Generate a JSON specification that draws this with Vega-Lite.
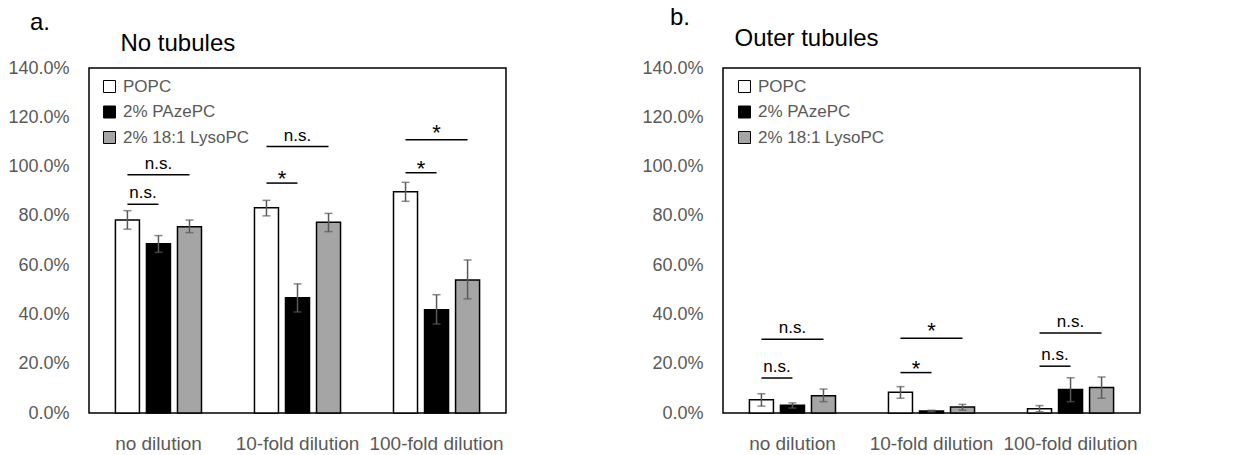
{
  "$schema": "https://vega.github.io/schema/vega-lite/v6.json",
  "padding": {"left": 7, "top": 5, "right": 0, "bottom": 0},
  "background": "white",
  "datasets": {
    "bars": [
      {"panel": "a", "dilution": "no dilution", "series": "POPC", "value": 0.783, "lo": 0.746, "hi": 0.821},
      {"panel": "a", "dilution": "no dilution", "series": "2% PAzePC", "value": 0.687, "lo": 0.652, "hi": 0.720},
      {"panel": "a", "dilution": "no dilution", "series": "2% 18:1 LysoPC", "value": 0.756, "lo": 0.732, "hi": 0.783},
      {"panel": "a", "dilution": "10-fold dilution", "series": "POPC", "value": 0.833, "lo": 0.800, "hi": 0.863},
      {"panel": "a", "dilution": "10-fold dilution", "series": "2% PAzePC", "value": 0.468, "lo": 0.410, "hi": 0.524},
      {"panel": "a", "dilution": "10-fold dilution", "series": "2% 18:1 LysoPC", "value": 0.774, "lo": 0.736, "hi": 0.810},
      {"panel": "a", "dilution": "100-fold dilution", "series": "POPC", "value": 0.898, "lo": 0.859, "hi": 0.936},
      {"panel": "a", "dilution": "100-fold dilution", "series": "2% PAzePC", "value": 0.419, "lo": 0.361, "hi": 0.480},
      {"panel": "a", "dilution": "100-fold dilution", "series": "2% 18:1 LysoPC", "value": 0.540, "lo": 0.463, "hi": 0.621},
      {"panel": "b", "dilution": "no dilution", "series": "POPC", "value": 0.054, "lo": 0.028, "hi": 0.078},
      {"panel": "b", "dilution": "no dilution", "series": "2% PAzePC", "value": 0.031, "lo": 0.020, "hi": 0.041},
      {"panel": "b", "dilution": "no dilution", "series": "2% 18:1 LysoPC", "value": 0.070, "lo": 0.046, "hi": 0.097},
      {"panel": "b", "dilution": "10-fold dilution", "series": "POPC", "value": 0.084, "lo": 0.060, "hi": 0.107},
      {"panel": "b", "dilution": "10-fold dilution", "series": "2% PAzePC", "value": 0.008, "lo": 0.005, "hi": 0.011},
      {"panel": "b", "dilution": "10-fold dilution", "series": "2% 18:1 LysoPC", "value": 0.024, "lo": 0.012, "hi": 0.035},
      {"panel": "b", "dilution": "100-fold dilution", "series": "POPC", "value": 0.017, "lo": 0.005, "hi": 0.030},
      {"panel": "b", "dilution": "100-fold dilution", "series": "2% PAzePC", "value": 0.095, "lo": 0.046, "hi": 0.143},
      {"panel": "b", "dilution": "100-fold dilution", "series": "2% 18:1 LysoPC", "value": 0.103, "lo": 0.060, "hi": 0.146}
    ],
    "sigLines": [
      {"panel": "a", "dilution": "no dilution", "comp": "short", "series": "POPC", "level": 0.847},
      {"panel": "a", "dilution": "no dilution", "comp": "short", "series": "2% PAzePC", "level": 0.847},
      {"panel": "a", "dilution": "no dilution", "comp": "long", "series": "POPC", "level": 0.967},
      {"panel": "a", "dilution": "no dilution", "comp": "long", "series": "2% 18:1 LysoPC", "level": 0.967},
      {"panel": "a", "dilution": "10-fold dilution", "comp": "short", "series": "POPC", "level": 0.933},
      {"panel": "a", "dilution": "10-fold dilution", "comp": "short", "series": "2% PAzePC", "level": 0.933},
      {"panel": "a", "dilution": "10-fold dilution", "comp": "long", "series": "POPC", "level": 1.081},
      {"panel": "a", "dilution": "10-fold dilution", "comp": "long", "series": "2% 18:1 LysoPC", "level": 1.081},
      {"panel": "a", "dilution": "100-fold dilution", "comp": "short", "series": "POPC", "level": 0.975},
      {"panel": "a", "dilution": "100-fold dilution", "comp": "short", "series": "2% PAzePC", "level": 0.975},
      {"panel": "a", "dilution": "100-fold dilution", "comp": "long", "series": "POPC", "level": 1.109},
      {"panel": "a", "dilution": "100-fold dilution", "comp": "long", "series": "2% 18:1 LysoPC", "level": 1.109},
      {"panel": "b", "dilution": "no dilution", "comp": "short", "series": "POPC", "level": 0.142},
      {"panel": "b", "dilution": "no dilution", "comp": "short", "series": "2% PAzePC", "level": 0.142},
      {"panel": "b", "dilution": "no dilution", "comp": "long", "series": "POPC", "level": 0.299},
      {"panel": "b", "dilution": "no dilution", "comp": "long", "series": "2% 18:1 LysoPC", "level": 0.299},
      {"panel": "b", "dilution": "10-fold dilution", "comp": "short", "series": "POPC", "level": 0.164},
      {"panel": "b", "dilution": "10-fold dilution", "comp": "short", "series": "2% PAzePC", "level": 0.164},
      {"panel": "b", "dilution": "10-fold dilution", "comp": "long", "series": "POPC", "level": 0.303},
      {"panel": "b", "dilution": "10-fold dilution", "comp": "long", "series": "2% 18:1 LysoPC", "level": 0.303},
      {"panel": "b", "dilution": "100-fold dilution", "comp": "short", "series": "POPC", "level": 0.190},
      {"panel": "b", "dilution": "100-fold dilution", "comp": "short", "series": "2% PAzePC", "level": 0.190},
      {"panel": "b", "dilution": "100-fold dilution", "comp": "long", "series": "POPC", "level": 0.325},
      {"panel": "b", "dilution": "100-fold dilution", "comp": "long", "series": "2% 18:1 LysoPC", "level": 0.325}
    ],
    "sigLabels": [
      {"panel": "a", "dilution": "no dilution", "comp": "short", "anchor": "POPC", "label": "n.s.", "level": 0.847},
      {"panel": "a", "dilution": "no dilution", "comp": "long", "anchor": "2% PAzePC", "label": "n.s.", "level": 0.967},
      {"panel": "a", "dilution": "10-fold dilution", "comp": "short", "anchor": "POPC", "label": "*", "level": 0.933},
      {"panel": "a", "dilution": "10-fold dilution", "comp": "long", "anchor": "2% PAzePC", "label": "n.s.", "level": 1.081},
      {"panel": "a", "dilution": "100-fold dilution", "comp": "short", "anchor": "POPC", "label": "*", "level": 0.975},
      {"panel": "a", "dilution": "100-fold dilution", "comp": "long", "anchor": "2% PAzePC", "label": "*", "level": 1.109},
      {"panel": "b", "dilution": "no dilution", "comp": "short", "anchor": "POPC", "label": "n.s.", "level": 0.142},
      {"panel": "b", "dilution": "no dilution", "comp": "long", "anchor": "2% PAzePC", "label": "n.s.", "level": 0.299},
      {"panel": "b", "dilution": "10-fold dilution", "comp": "short", "anchor": "POPC", "label": "*", "level": 0.164},
      {"panel": "b", "dilution": "10-fold dilution", "comp": "long", "anchor": "2% PAzePC", "label": "*", "level": 0.303},
      {"panel": "b", "dilution": "100-fold dilution", "comp": "short", "anchor": "POPC", "label": "n.s.", "level": 0.190},
      {"panel": "b", "dilution": "100-fold dilution", "comp": "long", "anchor": "2% PAzePC", "label": "n.s.", "level": 0.325}
    ]
  },
  "spacing": 134,
  "resolve": {
    "scale": {"x": "independent", "y": "independent", "xOffset": "independent", "fill": "independent"},
    "legend": {"fill": "independent"}
  },
  "hconcat": [
    {
      "title": {"text": "a.", "dx": -59, "offset": -4},
      "width": 417,
      "height": 345,
      "encoding": {
        "x": {"field": "dilution", "type": "nominal", "sort": ["no dilution", "10-fold dilution", "100-fold dilution"], "scale": {"paddingInner": 0.381, "paddingOuter": 0.19}, "axis": {"title": null}},
        "xOffset": {"field": "series", "type": "nominal", "sort": ["POPC", "2% PAzePC", "2% 18:1 LysoPC"], "scale": {"domain": ["POPC", "2% PAzePC", "2% 18:1 LysoPC"], "paddingInner": 0.226, "paddingOuter": 0}}
      },
      "layer": [
        {
          "data": {"name": "bars"},
          "transform": [{"filter": "datum.panel === 'a'"}],
          "mark": {"type": "bar", "stroke": "black", "strokeWidth": 1.5},
          "encoding": {
            "y": {"field": "value", "type": "quantitative", "scale": {"domain": [0, 1.4]}, "axis": {"title": "No tubules", "format": ".1%", "values": [0, 0.2, 0.4, 0.6, 0.8, 1.0, 1.2, 1.4], "titleX": 31, "titleY": -18}},
            "fill": {"field": "series", "type": "nominal", "sort": ["POPC", "2% PAzePC", "2% 18:1 LysoPC"], "scale": {"domain": ["POPC", "2% PAzePC", "2% 18:1 LysoPC"], "range": ["#ffffff", "#000000", "#a5a5a5"]}, "legend": {"orient": "none", "legendX": 12, "legendY": 10}}
          }
        },
        {
          "data": {"name": "bars"},
          "transform": [{"filter": "datum.panel === 'a'"}],
          "mark": {"type": "rule", "color": "#595959", "strokeWidth": 1.5},
          "encoding": {"y": {"field": "lo", "type": "quantitative"}, "y2": {"field": "hi"}}
        },
        {
          "data": {"name": "bars"},
          "transform": [{"filter": "datum.panel === 'a'"}],
          "mark": {"type": "tick", "color": "#595959", "thickness": 1.5, "size": 8, "orient": "horizontal"},
          "encoding": {"y": {"field": "lo", "type": "quantitative"}}
        },
        {
          "data": {"name": "bars"},
          "transform": [{"filter": "datum.panel === 'a'"}],
          "mark": {"type": "tick", "color": "#595959", "thickness": 1.5, "size": 8, "orient": "horizontal"},
          "encoding": {"y": {"field": "hi", "type": "quantitative"}}
        },
        {
          "data": {"name": "sigLines"},
          "transform": [{"filter": "datum.panel === 'a'"}],
          "mark": {"type": "line", "color": "black", "strokeWidth": 1.5},
          "encoding": {"y": {"field": "level", "type": "quantitative"}, "detail": [{"field": "dilution"}, {"field": "comp"}], "xOffset": {"field": "series", "type": "nominal"}}
        },
        {
          "data": {"name": "sigLabels"},
          "transform": [{"filter": "datum.panel === 'a' && datum.comp === 'short' && datum.label === 'n.s.'"}],
          "mark": {"type": "text", "fontSize": 17, "color": "black", "dx": 15.5, "dy": -6, "baseline": "alphabetic"},
          "encoding": {"y": {"field": "level", "type": "quantitative"}, "xOffset": {"field": "anchor", "type": "nominal"}, "text": {"field": "label"}}
        },
        {
          "data": {"name": "sigLabels"},
          "transform": [{"filter": "datum.panel === 'a' && datum.comp === 'short' && datum.label === '*'"}],
          "mark": {"type": "text", "fontSize": 22, "color": "black", "dx": 15.5, "dy": 3, "baseline": "alphabetic"},
          "encoding": {"y": {"field": "level", "type": "quantitative"}, "xOffset": {"field": "anchor", "type": "nominal"}, "text": {"field": "label"}}
        },
        {
          "data": {"name": "sigLabels"},
          "transform": [{"filter": "datum.panel === 'a' && datum.comp === 'long' && datum.label === 'n.s.'"}],
          "mark": {"type": "text", "fontSize": 17, "color": "black", "dy": -6, "baseline": "alphabetic"},
          "encoding": {"y": {"field": "level", "type": "quantitative"}, "xOffset": {"field": "anchor", "type": "nominal"}, "text": {"field": "label"}}
        },
        {
          "data": {"name": "sigLabels"},
          "transform": [{"filter": "datum.panel === 'a' && datum.comp === 'long' && datum.label === '*'"}],
          "mark": {"type": "text", "fontSize": 22, "color": "black", "dy": 0, "baseline": "alphabetic"},
          "encoding": {"y": {"field": "level", "type": "quantitative"}, "xOffset": {"field": "anchor", "type": "nominal"}, "text": {"field": "label"}}
        }
      ]
    },
    {
      "title": {"text": "b.", "dx": -53, "offset": -4},
      "width": 417,
      "height": 345,
      "encoding": {
        "x": {"field": "dilution", "type": "nominal", "sort": ["no dilution", "10-fold dilution", "100-fold dilution"], "scale": {"paddingInner": 0.381, "paddingOuter": 0.19}, "axis": {"title": null}},
        "xOffset": {"field": "series", "type": "nominal", "sort": ["POPC", "2% PAzePC", "2% 18:1 LysoPC"], "scale": {"domain": ["POPC", "2% PAzePC", "2% 18:1 LysoPC"], "paddingInner": 0.226, "paddingOuter": 0}}
      },
      "layer": [
        {
          "data": {"name": "bars"},
          "transform": [{"filter": "datum.panel === 'b'"}],
          "mark": {"type": "bar", "stroke": "black", "strokeWidth": 1.5},
          "encoding": {
            "y": {"field": "value", "type": "quantitative", "scale": {"domain": [0, 1.4]}, "axis": {"title": "Outer tubules", "format": ".1%", "values": [0, 0.2, 0.4, 0.6, 0.8, 1.0, 1.2, 1.4], "titleX": 11, "titleY": -23}},
            "fill": {"field": "series", "type": "nominal", "sort": ["POPC", "2% PAzePC", "2% 18:1 LysoPC"], "scale": {"domain": ["POPC", "2% PAzePC", "2% 18:1 LysoPC"], "range": ["#ffffff", "#000000", "#a5a5a5"]}, "legend": {"orient": "none", "legendX": 13, "legendY": 10}}
          }
        },
        {
          "data": {"name": "bars"},
          "transform": [{"filter": "datum.panel === 'b'"}],
          "mark": {"type": "rule", "color": "#595959", "strokeWidth": 1.5},
          "encoding": {"y": {"field": "lo", "type": "quantitative"}, "y2": {"field": "hi"}}
        },
        {
          "data": {"name": "bars"},
          "transform": [{"filter": "datum.panel === 'b'"}],
          "mark": {"type": "tick", "color": "#595959", "thickness": 1.5, "size": 8, "orient": "horizontal"},
          "encoding": {"y": {"field": "lo", "type": "quantitative"}}
        },
        {
          "data": {"name": "bars"},
          "transform": [{"filter": "datum.panel === 'b'"}],
          "mark": {"type": "tick", "color": "#595959", "thickness": 1.5, "size": 8, "orient": "horizontal"},
          "encoding": {"y": {"field": "hi", "type": "quantitative"}}
        },
        {
          "data": {"name": "sigLines"},
          "transform": [{"filter": "datum.panel === 'b'"}],
          "mark": {"type": "line", "color": "black", "strokeWidth": 1.5},
          "encoding": {"y": {"field": "level", "type": "quantitative"}, "detail": [{"field": "dilution"}, {"field": "comp"}], "xOffset": {"field": "series", "type": "nominal"}}
        },
        {
          "data": {"name": "sigLabels"},
          "transform": [{"filter": "datum.panel === 'b' && datum.comp === 'short' && datum.label === 'n.s.'"}],
          "mark": {"type": "text", "fontSize": 17, "color": "black", "dx": 15.5, "dy": -6, "baseline": "alphabetic"},
          "encoding": {"y": {"field": "level", "type": "quantitative"}, "xOffset": {"field": "anchor", "type": "nominal"}, "text": {"field": "label"}}
        },
        {
          "data": {"name": "sigLabels"},
          "transform": [{"filter": "datum.panel === 'b' && datum.comp === 'short' && datum.label === '*'"}],
          "mark": {"type": "text", "fontSize": 22, "color": "black", "dx": 15.5, "dy": 3, "baseline": "alphabetic"},
          "encoding": {"y": {"field": "level", "type": "quantitative"}, "xOffset": {"field": "anchor", "type": "nominal"}, "text": {"field": "label"}}
        },
        {
          "data": {"name": "sigLabels"},
          "transform": [{"filter": "datum.panel === 'b' && datum.comp === 'long' && datum.label === 'n.s.'"}],
          "mark": {"type": "text", "fontSize": 17, "color": "black", "dy": -6, "baseline": "alphabetic"},
          "encoding": {"y": {"field": "level", "type": "quantitative"}, "xOffset": {"field": "anchor", "type": "nominal"}, "text": {"field": "label"}}
        },
        {
          "data": {"name": "sigLabels"},
          "transform": [{"filter": "datum.panel === 'b' && datum.comp === 'long' && datum.label === '*'"}],
          "mark": {"type": "text", "fontSize": 22, "color": "black", "dy": 0, "baseline": "alphabetic"},
          "encoding": {"y": {"field": "level", "type": "quantitative"}, "xOffset": {"field": "anchor", "type": "nominal"}, "text": {"field": "label"}}
        }
      ]
    }
  ],
  "config": {
    "font": "Liberation Sans",
    "view": {"stroke": "black", "strokeWidth": 1.5},
    "title": {"anchor": "start", "frame": "group", "baseline": "alphabetic", "fontSize": 24, "fontWeight": "normal", "color": "black", "font": "Liberation Sans"},
    "axisX": {"labelFontSize": 19, "labelColor": "#595959", "labelPadding": 21, "ticks": false, "domain": false, "grid": false, "labelAngle": 0, "labelFont": "Liberation Sans"},
    "axisY": {"labelFontSize": 18, "labelColor": "#595959", "labelPadding": 20, "ticks": false, "domain": false, "grid": false, "labelFont": "Liberation Sans", "titleFontSize": 24, "titleColor": "black", "titleFontWeight": "normal", "titleAngle": 0, "titleAlign": "left", "titleBaseline": "alphabetic", "titleFont": "Liberation Sans"},
    "legend": {"title": null, "padding": 0, "symbolType": "square", "symbolSize": 144, "symbolStrokeColor": "black", "symbolStrokeWidth": 1, "symbolOpacity": 1, "labelFontSize": 17, "labelColor": "#595959", "labelOffset": 5, "rowPadding": 7.5, "labelFont": "Liberation Sans"}
  }
}
